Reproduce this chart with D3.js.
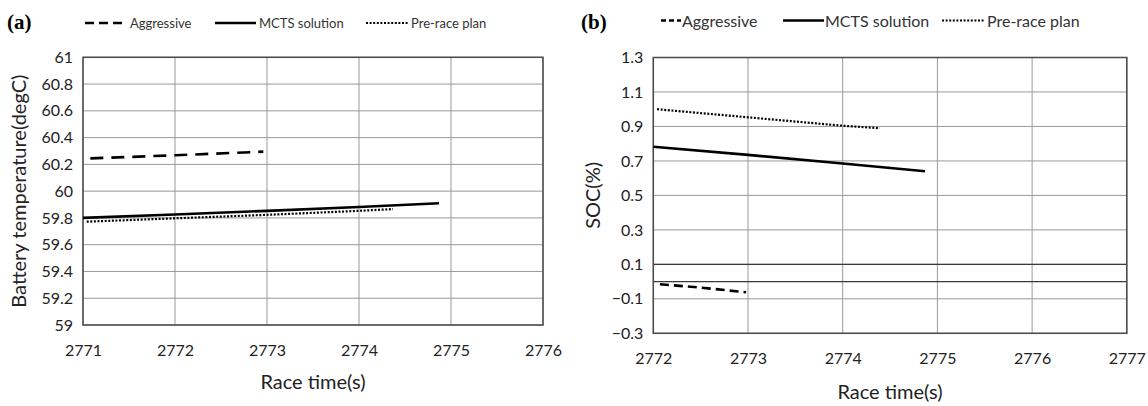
<!DOCTYPE html>
<html>
<head>
<meta charset="utf-8">
<script src="https://cdn.jsdelivr.net/npm/d3@7"></script>
<style>
  html, body { margin: 0; padding: 0; background: #fff; }
  svg { display: block; }
</style>
</head>
<body>
<svg id="chart" width="1148" height="406"></svg>
<script>
// ---- Panel (a): battery temperature ----
const tempXTicks = [2771, 2772, 2773, 2774, 2775, 2776];
const tempYTicks = [59, 59.2, 59.4, 59.6, 59.8, 60, 60.2, 60.4, 60.6, 60.8, 61];
const tempAggressive = [[2771.08, 60.245], [2772.0, 60.268], [2772.96, 60.295]];
const tempMCTS = [[2771.0, 59.80], [2772.0, 59.826], [2773.0, 59.853], [2774.0, 59.882], [2774.87, 59.910]];
const tempPreRace = [[2771.04, 59.772], [2772.0, 59.797], [2773.0, 59.823], [2774.0, 59.853], [2774.37, 59.866]];

// ---- Panel (b): state of charge ----
const socXTicks = [2772, 2773, 2774, 2775, 2776, 2777];
const socYTicks = [-0.3, -0.1, 0.1, 0.3, 0.5, 0.7, 0.9, 1.1, 1.3];
const socAggressive = [[2772.07, -0.015], [2772.5, -0.035], [2772.98, -0.062]];
const socMCTS = [[2772.0, 0.782], [2773.0, 0.735], [2774.0, 0.685], [2774.87, 0.640]];
const socPreRace = [[2772.04, 1.000], [2773.0, 0.953], [2774.0, 0.904], [2774.39, 0.890]];

const legendNames = ["Aggressive", "MCTS solution", "Pre-race plan"];

const svg = d3.select("#chart");
const FONT = "Lato, 'Open Sans', sans-serif";

const styles = {
  aggressive: { width: 2.6, dash: "13,8" },
  mcts: { width: 2.6, dash: null },
  prerace: { width: 2.2, dash: "2,1.6" }
};

function drawPanel(cfg) {
  const x = d3.scaleLinear().domain(cfg.xDomain).range([cfg.left, cfg.right]);
  const y = d3.scaleLinear().domain(cfg.yDomain).range([cfg.bottom, cfg.top]);
  const g = svg.append("g");

  // grid
  g.append("g").selectAll("line.h").data(cfg.yTicks).join("line")
    .attr("x1", cfg.left).attr("x2", cfg.right)
    .attr("y1", d => y(d)).attr("y2", d => y(d))
    .attr("stroke", "#999").attr("stroke-width", 1);
  g.append("g").selectAll("line.v").data(cfg.xTicks).join("line")
    .attr("y1", cfg.top).attr("y2", cfg.bottom)
    .attr("x1", d => x(d)).attr("x2", d => x(d))
    .attr("stroke", "#999").attr("stroke-width", 1);

  // emphasized horizontal lines
  (cfg.darkLines || []).forEach(v => {
    g.append("line").attr("x1", cfg.left).attr("x2", cfg.right)
      .attr("y1", y(v)).attr("y2", y(v))
      .attr("stroke", "#3a3a3a").attr("stroke-width", 1.4);
  });

  // frame
  g.append("rect").attr("x", cfg.left).attr("y", cfg.top)
    .attr("width", cfg.right - cfg.left).attr("height", cfg.bottom - cfg.top)
    .attr("fill", "none").attr("stroke", "#4a4a4a").attr("stroke-width", 1.5);

  // axis labels via d3 axes (ticks hidden, labels only)
  const yAxis = d3.axisLeft(y).tickValues(cfg.yTicks).tickSize(0).tickPadding(10)
    .tickFormat(d => d3.format("")(+d.toFixed(1)));
  const ya = g.append("g").attr("transform", `translate(${cfg.left},0)`).call(yAxis);
  ya.select(".domain").remove();
  ya.selectAll("text").attr("font-family", FONT).attr("font-size", 16).attr("fill", "#222");

  const xAxis = d3.axisBottom(x).tickValues(cfg.xTicks).tickSize(0).tickPadding(cfg.xTickPad)
    .tickFormat(d3.format("d"));
  const xa = g.append("g").attr("transform", `translate(0,${cfg.bottom})`).call(xAxis);
  xa.select(".domain").remove();
  xa.selectAll("text").attr("font-family", FONT).attr("font-size", 16).attr("fill", "#222");

  // titles
  g.append("text").attr("x", (cfg.left + cfg.right) / 2).attr("y", cfg.xTitleY)
    .attr("text-anchor", "middle").attr("font-family", FONT).attr("font-size", 20)
    .attr("fill", "#222").text("Race time(s)");
  g.append("text")
    .attr("transform", `translate(${cfg.yTitleX},${(cfg.top + cfg.bottom) / 2}) rotate(-90)`)
    .attr("text-anchor", "middle").attr("dominant-baseline", "central")
    .attr("font-family", FONT).attr("font-size", 20).attr("fill", "#222").text(cfg.yTitle);

  // series
  const line = d3.line().x(d => x(d[0])).y(d => y(d[1]));
  const series = [
    { data: cfg.aggressive, st: styles.aggressive, dash: cfg.aggDash },
    { data: cfg.mcts, st: styles.mcts, dash: null },
    { data: cfg.prerace, st: styles.prerace, dash: styles.prerace.dash }
  ];
  series.forEach(s => {
    g.append("path").datum(s.data).attr("d", line)
      .attr("fill", "none").attr("stroke", "#000")
      .attr("stroke-width", s.st.width)
      .attr("stroke-dasharray", s.dash)
      .attr("stroke-linecap", "butt");
  });

  // panel tag
  g.append("text").attr("x", cfg.tagX).attr("y", cfg.tagY)
    .attr("font-family", "'Liberation Serif', 'Times New Roman', serif")
    .attr("font-weight", "bold").attr("font-size", 21).attr("fill", "#000")
    .text(cfg.tag);

  // legend
  const lg = cfg.legend;
  legendNames.forEach((name, i) => {
    const it = lg.items[i];
    const st = [styles.aggressive, styles.mcts, styles.prerace][i];
    g.append("line").attr("x1", it.x1).attr("x2", it.x2)
      .attr("y1", lg.y).attr("y2", lg.y)
      .attr("stroke", "#000").attr("stroke-width", st.width)
      .attr("stroke-dasharray", it.dash);
    g.append("text").attr("x", it.tx).attr("y", lg.y)
      .attr("dominant-baseline", "central")
      .attr("font-family", FONT).attr("font-size", lg.size).attr("fill", "#333")
      .text(name);
  });
}

drawPanel({
  tag: "(a)", tagX: 7, tagY: 29,
  left: 83, right: 543, top: 57.3, bottom: 325,
  xDomain: [2771, 2776], yDomain: [59, 61],
  xTicks: tempXTicks, yTicks: tempYTicks,
  xTickPad: 20, xTitleY: 389, yTitleX: 18,
  yTitle: "Battery temperature(degC)",
  aggressive: tempAggressive, mcts: tempMCTS, prerace: tempPreRace,
  aggDash: "13,8",
  legend: {
    y: 23, size: 13,
    items: [
      { x1: 85, x2: 127, dash: "9,5", tx: 130 },
      { x1: 215, x2: 256, dash: null, tx: 259 },
      { x1: 366, x2: 409, dash: "2,1.6", tx: 411 }
    ]
  }
});

drawPanel({
  tag: "(b)", tagX: 581, tagY: 29,
  left: 653.3, right: 1126.8, top: 57.5, bottom: 333.3,
  xDomain: [2772, 2777], yDomain: [-0.3, 1.3],
  xTicks: socXTicks, yTicks: socYTicks,
  xTickPad: 19, xTitleY: 399, yTitleX: 592,
  yTitle: "SOC(%)",
  darkLines: [0.1, 0],
  aggressive: socAggressive, mcts: socMCTS, prerace: socPreRace,
  aggDash: "9,5",
  legend: {
    y: 20.5, size: 16,
    items: [
      { x1: 661, x2: 681, dash: "5,3", tx: 682 },
      { x1: 783, x2: 824, dash: null, tx: 825 },
      { x1: 942, x2: 984, dash: "2,1.6", tx: 987 }
    ]
  }
});
</script>
</body>
</html>
